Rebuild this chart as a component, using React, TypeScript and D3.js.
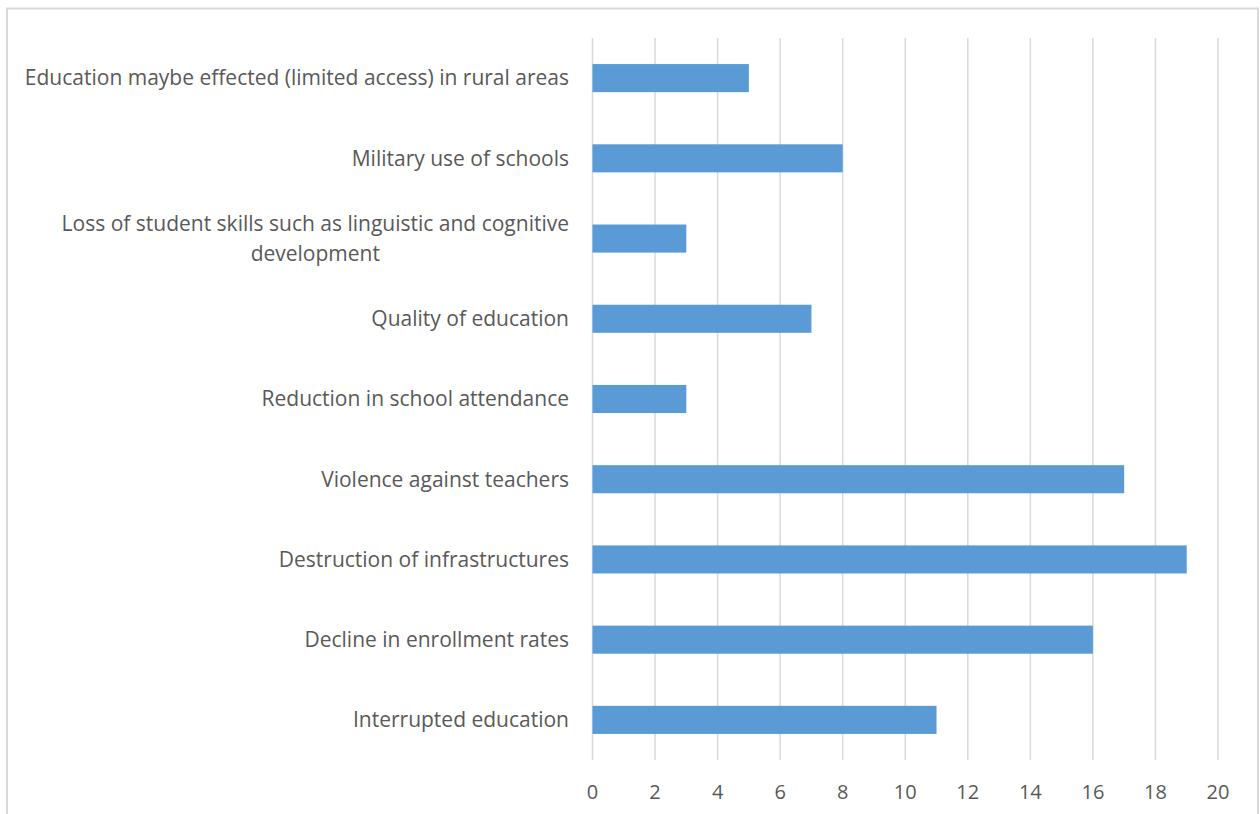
import React, { useEffect, useRef } from "react";
import * as d3 from "d3";

const categories: string[] = [
  "Education maybe effected (limited access) in rural areas",
  "Military use of schools",
  "Loss of student skills such as linguistic and cognitive development",
  "Quality of education",
  "Reduction in school attendance",
  "Violence against teachers",
  "Destruction of infrastructures",
  "Decline in enrollment rates",
  "Interrupted education",
];
const values: number[] = [5, 8, 3, 7, 3, 17, 19, 16, 11];
const xTicks: number[] = [0, 2, 4, 6, 8, 10, 12, 14, 16, 18, 20];

const W = 1260;
const H = 814;
const FONT = "'Open Sans', sans-serif";
const LABEL_SIZE = 21;

export default function App() {
  const ref = useRef<SVGSVGElement>(null);
  useEffect(() => {
    const svg = d3.select(ref.current);
    svg.selectAll("*").remove();

    svg
      .append("rect")
      .attr("x", 7)
      .attr("y", 8.5)
      .attr("width", 1251)
      .attr("height", 840)
      .attr("fill", "#fff")
      .attr("stroke", "#d9d9d9")
      .attr("stroke-width", 2);

    const x = d3.scaleLinear().domain([0, 20]).range([592.5, 1218]);
    const y = d3
      .scaleBand<string>()
      .domain(categories)
      .range([38, 760])
      .paddingInner(0.65)
      .paddingOuter(0.325);

    const g = svg.append("g");
    g.selectAll("line.grid")
      .data(xTicks)
      .join("line")
      .attr("class", "grid")
      .attr("x1", (d) => x(d))
      .attr("x2", (d) => x(d))
      .attr("y1", 38)
      .attr("y2", 760)
      .attr("stroke", "#d9d9d9")
      .attr("stroke-width", 1.5);

    g.selectAll("rect.bar")
      .data(categories)
      .join("rect")
      .attr("class", "bar")
      .attr("x", x(0))
      .attr("y", (d) => y(d)!)
      .attr("width", (d, i) => x(values[i]) - x(0))
      .attr("height", y.bandwidth())
      .attr("fill", "#5b9bd5");

    g.selectAll("text.tick")
      .data(xTicks)
      .join("text")
      .attr("class", "tick")
      .attr("x", (d) => x(d))
      .attr("y", 799)
      .attr("text-anchor", "middle")
      .attr("font-family", FONT)
      .attr("font-size", 20)
      .attr("fill", "#595959")
      .text((d) => String(d));

    const labelRight = 569;
    const maxWidth = 560;
    const measure = g
      .append("text")
      .attr("font-family", FONT)
      .attr("font-size", LABEL_SIZE)
      .attr("visibility", "hidden");
    const textWidth = (s: string) => {
      measure.text(s);
      return (measure.node() as SVGTextContentElement).getComputedTextLength();
    };

    categories.forEach((cat) => {
      const cy = y(cat)! + y.bandwidth() / 2;
      const words = cat.split(" ");
      const lines: string[] = [];
      let cur = "";
      for (const w of words) {
        const test = cur ? cur + " " + w : w;
        if (textWidth(test) > maxWidth && cur) {
          lines.push(cur);
          cur = w;
        } else cur = test;
      }
      lines.push(cur);

      const t = g
        .append("text")
        .attr("font-family", FONT)
        .attr("font-size", LABEL_SIZE)
        .attr("fill", "#595959");
      const lh = 30;
      if (lines.length === 1) {
        t.attr("x", labelRight)
          .attr("y", cy)
          .attr("dy", "0.35em")
          .attr("text-anchor", "end")
          .text(lines[0]);
      } else {
        const mw = Math.max(...lines.map(textWidth));
        const cx = labelRight - mw / 2;
        t.attr("text-anchor", "middle");
        lines.forEach((l, i) => {
          t.append("tspan")
            .attr("x", cx)
            .attr("y", cy + (i - (lines.length - 1) / 2) * lh)
            .attr("dy", "0.35em")
            .text(l);
        });
      }
    });
    measure.remove();
  }, []);

  return (
    <svg
      ref={ref}
      width={W}
      height={H}
      style={{ position: "absolute", left: 0, top: 0, background: "#fff" }}
    />
  );
}
